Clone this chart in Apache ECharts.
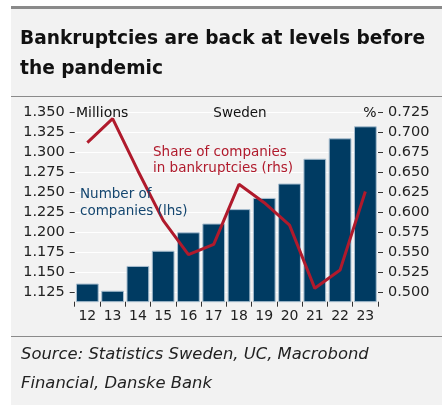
<!DOCTYPE html>
<html>
<head>
<meta charset="utf-8">
<script src="https://cdn.jsdelivr.net/npm/echarts@6/dist/echarts.min.js"></script>
<style>html,body{margin:0;padding:0;background:#fff}#c{width:446px;height:405px}</style>
</head>
<body>
<div id="c"></div>
<script>
const years = ['12','13','14','15','16','17','18','19','20','21','22','23'];
const companies = [1.136,1.127,1.158,1.177,1.200,1.211,1.229,1.243,1.261,1.292,1.3175,1.3325];
const share = [0.687,0.717,0.652,0.590,0.547,0.560,0.635,0.612,0.584,0.505,0.528,0.626];
const leftTicks = [1.125,1.150,1.175,1.200,1.225,1.250,1.275,1.300,1.325,1.350];
const rightTicks = [0.500,0.525,0.550,0.575,0.600,0.625,0.650,0.675,0.700,0.725];

const FONT = 'DejaVu Sans';
const chart = echarts.init(document.getElementById('c'), null, {renderer:'canvas'});
const txt = (x, y, text, size, color, extra) => ({
  type:'text', x:x, y:y, z:10,
  style:Object.assign({text:text, fill:color, fontFamily:FONT, fontSize:size, verticalAlign:'middle', align:'left'}, extra||{})
});
chart.setOption({
  backgroundColor:'#ffffff',
  animation:false,
  grid:{left:74.7, right:68, top:102.3, bottom:103.3, containLabel:false},
  xAxis:{type:'category', data:years, boundaryGap:true,
    axisLine:{show:false},
    axisTick:{show:true, length:5, interval:0, lineStyle:{color:'#333', width:1}},
    axisLabel:{margin:8, fontFamily:FONT, fontSize:14, color:'#222', interval:0}
  },
  yAxis:[
    {type:'value', min:1.1133, max:1.3625, position:'left',
      axisLine:{show:false},
      axisTick:{show:true, length:5, customValues:leftTicks, lineStyle:{color:'#333'}},
      axisLabel:{customValues:leftTicks, margin:10, fontFamily:FONT, fontSize:14.5, color:'#222', formatter:v=>v.toFixed(3)},
      splitLine:{show:true, lineStyle:{color:'#ffffff', width:1}}
    },
    {type:'value', min:0.4883, max:0.7375, position:'right',
      axisLine:{show:false},
      axisTick:{show:true, length:5, customValues:rightTicks, lineStyle:{color:'#333'}},
      axisLabel:{customValues:rightTicks, margin:10, fontFamily:FONT, fontSize:14.5, color:'#222', formatter:v=>v.toFixed(3)},
      splitLine:{show:false}
    }
  ],
  series:[
    {type:'bar', data:companies, yAxisIndex:0, barCategoryGap:'10%',
      itemStyle:{color:'#003b62', borderColor:'#a9bfd0', borderWidth:1}},
    {type:'line', data:share, yAxisIndex:1, symbol:'none', z:5,
      lineStyle:{color:'#b01a2c', width:3}}
  ],
  graphic:[
    {type:'rect', z:-1, shape:{x:11, y:6, width:431, height:399}, style:{fill:'#f2f2f2'}},
    {type:'rect', z:-1, shape:{x:11, y:6, width:431, height:3}, style:{fill:'#8a8a8a'}},
    {type:'rect', z:-1, shape:{x:11, y:96, width:431, height:1}, style:{fill:'#8a8a8a'}},
    {type:'rect', z:-1, shape:{x:11, y:336, width:431, height:1}, style:{fill:'#8a8a8a'}},
    txt(20, 39.5, 'Bankruptcies are back at levels before', 18.6, '#111', {fontWeight:'bold'}),
    txt(20, 69.5, 'the pandemic', 18.6, '#111', {fontWeight:'bold'}),
    txt(76, 113, 'Millions', 14, '#111'),
    txt(240, 113, 'Sweden', 13.5, '#111', {align:'center'}),
    txt(370, 113, '%', 14, '#111', {align:'center'}),
    txt(153, 152.5, 'Share of companies', 13.5, '#b01a2c'),
    txt(153, 168.5, 'in bankruptcies (rhs)', 13.5, '#b01a2c'),
    txt(80, 194.5, 'Number of', 13.5, '#14466f'),
    txt(80, 211, 'companies (lhs)', 13.5, '#14466f'),
    txt(21, 355, 'Source: Statistics Sweden, UC, Macrobond', 16.4, '#222', {fontStyle:'italic'}),
    txt(21, 384, 'Financial, Danske Bank', 16.4, '#222', {fontStyle:'italic'})
  ]
});
</script>
</body>
</html>
